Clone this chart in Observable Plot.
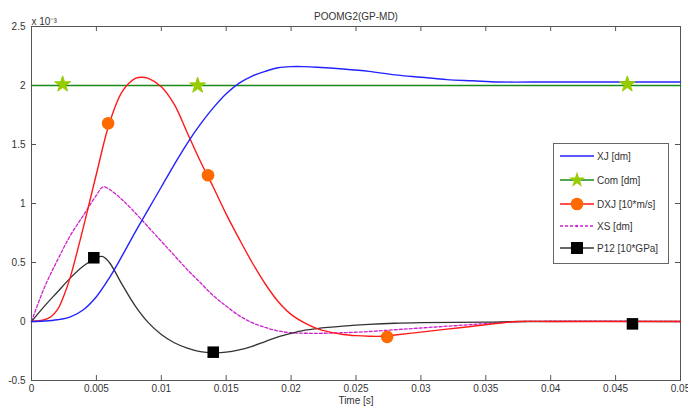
<!DOCTYPE html>
<html>
<head>
<meta charset="utf-8">
<script src="https://cdn.jsdelivr.net/npm/d3@7"></script>
<script src="https://cdn.jsdelivr.net/npm/@observablehq/plot@0.6"></script>
<style>
  body { margin: 0; background: #fff; }
  #wrap { position: relative; width: 688px; height: 409px; font-family: "Liberation Sans", Arial, sans-serif; }
  #legend { position: absolute; left: 553px; top: 143px; width: 114px; height: 119px; border: 1px solid #666; background: #fff; font-size: 10px; color: #333; }
  #legend .row { position: absolute; left: 0; height: 16px; display: flex; align-items: center; }
  #legend svg { display: block; }
  #legend span { margin-left: 1px; }
</style>
</head>
<body>
<div id="wrap"></div>
<script>
// ---- data (values in units of 1e-3) ----
const title = "POOMG2(GP-MD)";
const xLabel = "Time [s]";
const yExponent = "x 10\u207B\u00B3";
const xTicks = [0, 0.005, 0.01, 0.015, 0.02, 0.025, 0.03, 0.035, 0.04, 0.045, 0.05];
const xTickLabels = ["0", "0.005", "0.01", "0.015", "0.02", "0.025", "0.03", "0.035", "0.04", "0.045", "0.05"];
const yTicks = [-0.5, 0, 0.5, 1, 1.5, 2, 2.5];
const yTickLabels = ["-0.5", "0", "0.5", "1", "1.5", "2", "2.5"];
const seriesNames = ["XJ [dm]", "Com [dm]", "DXJ [10*m/s]", "XS [dm]", "P12 [10*GPa]"];

const xjT = [0, 0.001, 0.002, 0.003, 0.004, 0.005, 0.006, 0.007, 0.008, 0.009, 0.010, 0.011, 0.012, 0.013, 0.014, 0.015, 0.016, 0.017, 0.018, 0.019, 0.020, 0.021, 0.022, 0.024, 0.026, 0.028, 0.030, 0.032, 0.034, 0.036, 0.040, 0.045, 0.050];
const xjV = [0, 0.004, 0.015, 0.04, 0.1, 0.21, 0.37, 0.56, 0.76, 0.95, 1.14, 1.33, 1.51, 1.67, 1.81, 1.93, 2.02, 2.08, 2.12, 2.15, 2.16, 2.16, 2.155, 2.14, 2.12, 2.09, 2.07, 2.05, 2.04, 2.03, 2.03, 2.03, 2.03];

const comT = [0, 0.05];
const comV = [2, 2];
const comMarkT = [0.0024, 0.0128, 0.0459];
const comMarkV = [2.01, 2.0, 2.01];

const dxjT = [0, 0.001, 0.0015, 0.002, 0.0025, 0.003, 0.004, 0.005, 0.006, 0.007, 0.008, 0.0085, 0.009, 0.010, 0.011, 0.012, 0.013, 0.014, 0.015, 0.016, 0.017, 0.018, 0.019, 0.020, 0.021, 0.022, 0.023, 0.024, 0.025, 0.026, 0.027, 0.028, 0.030, 0.032, 0.034, 0.036, 0.0375, 0.040, 0.050];
const dxjV = [0, 0.015, 0.04, 0.1, 0.22, 0.38, 0.8, 1.25, 1.68, 1.95, 2.06, 2.07, 2.06, 1.99, 1.84, 1.6, 1.36, 1.14, 0.91, 0.7, 0.5, 0.32, 0.17, 0.06, -0.01, -0.06, -0.09, -0.11, -0.12, -0.125, -0.125, -0.115, -0.09, -0.065, -0.04, -0.015, 0, 0, 0];
const dxjMarkT = [0.0059, 0.0136, 0.0274];
const dxjMarkV = [1.68, 1.24, -0.13];

const xsT = [0, 0.001, 0.002, 0.003, 0.004, 0.005, 0.0055, 0.006, 0.007, 0.008, 0.009, 0.010, 0.011, 0.012, 0.013, 0.014, 0.015, 0.016, 0.017, 0.018, 0.019, 0.020, 0.022, 0.024, 0.026, 0.028, 0.030, 0.032, 0.034, 0.036, 0.038, 0.050];
const xsV = [0, 0.29, 0.52, 0.73, 0.9, 1.07, 1.14, 1.12, 1.03, 0.92, 0.8, 0.68, 0.56, 0.44, 0.33, 0.22, 0.13, 0.05, -0.01, -0.05, -0.08, -0.095, -0.1, -0.095, -0.085, -0.07, -0.055, -0.04, -0.025, -0.01, 0, 0];

const p12T = [0, 0.001, 0.002, 0.003, 0.004, 0.005, 0.0055, 0.006, 0.007, 0.008, 0.009, 0.010, 0.011, 0.012, 0.013, 0.014, 0.015, 0.016, 0.017, 0.018, 0.019, 0.020, 0.021, 0.022, 0.024, 0.026, 0.028, 0.030, 0.035, 0.038, 0.050];
const p12V = [0, 0.13, 0.25, 0.37, 0.47, 0.54, 0.55, 0.5, 0.31, 0.13, -0.01, -0.11, -0.18, -0.225, -0.255, -0.265, -0.26, -0.24, -0.21, -0.17, -0.13, -0.1, -0.075, -0.06, -0.04, -0.025, -0.015, -0.01, -0.005, 0, 0];
const p12MarkT = [0.0048, 0.014, 0.0463];
const p12MarkV = [0.54, -0.26, -0.02];

// ---- styles ----
const colors = { xj: "#2323ff", com: "#1a8a1a", comMark: "#99cc00", dxj: "#ff1a1a", dxjMark: "#ff6a00", xs: "#cc22cc", p12: "#333333", p12Mark: "#000000" };

const zip = (t, v) => t.map((d, i) => ({ t: d, v: v[i] }));

const W = 688, H = 409, mL = 31, mR = 8, mT = 26, mB = 29;
const innerW = W - mL - mR, innerH = H - mT - mB;
const axisColor = "#555";
const textColor = "#333";

const chart = Plot.plot({
  width: W, height: H,
  marginLeft: mL, marginRight: mR, marginTop: mT, marginBottom: mB,
  style: { fontFamily: "'Liberation Sans', Arial, sans-serif", fontSize: "10px", color: textColor, background: "#fff" },
  x: { domain: [0, 0.05] },
  y: { domain: [-0.5, 2.5] },
  marks: [
    Plot.frame({ stroke: axisColor, strokeWidth: 1 }),
    // inward ticks
    Plot.tickX(xTicks, { x: d => d, insetTop: innerH - 5, stroke: axisColor }),
    Plot.tickX(xTicks, { x: d => d, insetBottom: innerH - 5, stroke: axisColor }),
    Plot.tickY(yTicks, { y: d => d, insetRight: innerW - 5, stroke: axisColor }),
    Plot.tickY(yTicks, { y: d => d, insetLeft: innerW - 5, stroke: axisColor }),
    Plot.axisX({ ticks: xTicks, tickSize: 0, tickPadding: 4, tickFormat: d => xTickLabels[xTicks.indexOf(d)], label: null, fill: textColor }),
    Plot.axisY({ ticks: yTicks, tickSize: 0, tickPadding: 6, tickFormat: d => yTickLabels[yTicks.indexOf(d)], label: null, fill: textColor }),
    // series
    Plot.line(zip(comT, comV), { x: "t", y: "v", stroke: colors.com, strokeWidth: 1.6 }),
    Plot.line(zip(xsT, xsV), { x: "t", y: "v", stroke: colors.xs, strokeWidth: 1.3, strokeDasharray: "3,2", curve: "catmull-rom" }),
    Plot.line(zip(p12T, p12V), { x: "t", y: "v", stroke: colors.p12, strokeWidth: 1.3, curve: "catmull-rom" }),
    Plot.line(zip(dxjT, dxjV), { x: "t", y: "v", stroke: colors.dxj, strokeWidth: 1.4, curve: "catmull-rom" }),
    Plot.line(zip(xjT, xjV), { x: "t", y: "v", stroke: colors.xj, strokeWidth: 1.4, curve: "catmull-rom" }),
    // markers
    Plot.dot(zip(comMarkT, comMarkV), { x: "t", y: "v", symbol: "star", r: 5, fill: colors.comMark, stroke: colors.comMark, strokeWidth: 1 }),
    Plot.dot(zip(dxjMarkT, dxjMarkV), { x: "t", y: "v", symbol: "circle", r: 6.3, fill: colors.dxjMark, stroke: "none" }),
    Plot.dot(zip(p12MarkT, p12MarkV), { x: "t", y: "v", symbol: "square", r: 6.5, fill: colors.p12Mark, stroke: "none" }),
    // texts
    Plot.text([title], { text: d => d, frameAnchor: "top", dy: -14, fill: textColor, fontSize: 10 }),
    Plot.text([yExponent], { text: d => d, frameAnchor: "top-left", textAnchor: "start", dy: -9, dx: 0, fill: textColor, fontSize: 10 }),
    Plot.text([xLabel], { text: d => d, frameAnchor: "bottom", dy: 23, fill: textColor, fontSize: 10 })
  ]
});

const wrap = document.getElementById("wrap");
wrap.appendChild(chart);

// legend
const legendDefs = [
  { name: seriesNames[0], stroke: colors.xj, dash: null, mark: null },
  { name: seriesNames[1], stroke: colors.com, dash: null, mark: "star", fill: colors.comMark },
  { name: seriesNames[2], stroke: colors.dxj, dash: null, mark: "circle", fill: colors.dxjMark },
  { name: seriesNames[3], stroke: colors.xs, dash: "3,2", mark: "dot", fill: colors.xs },
  { name: seriesNames[4], stroke: colors.p12, dash: null, mark: "square", fill: colors.p12Mark }
];
const leg = document.createElement("div");
leg.id = "legend";
const rowTops = [4, 28, 52, 74, 96];
legendDefs.forEach((d, i) => {
  const row = document.createElement("div");
  row.className = "row";
  row.style.top = rowTops[i] + "px";
  row.style.left = "6px";
  const svg = d3.create("svg").attr("width", 36).attr("height", 16);
  svg.append("line").attr("x1", 0).attr("x2", 34).attr("y1", 8).attr("y2", 8)
    .attr("stroke", d.stroke).attr("stroke-width", 1.4).attr("stroke-dasharray", d.dash);
  if (d.mark === "star") svg.append("path").attr("d", d3.symbol(d3.symbolStar, 80)()).attr("transform", "translate(17,8)").attr("fill", d.fill);
  if (d.mark === "circle") svg.append("circle").attr("cx", 17).attr("cy", 8).attr("r", 6.3).attr("fill", d.fill);
  if (d.mark === "dot") svg.append("circle").attr("cx", 17).attr("cy", 8).attr("r", 1.2).attr("fill", d.fill);
  if (d.mark === "square") svg.append("rect").attr("x", 11).attr("y", 2).attr("width", 12).attr("height", 12).attr("fill", d.fill);
  row.appendChild(svg.node());
  const s = document.createElement("span");
  s.textContent = d.name;
  row.appendChild(s);
  leg.appendChild(row);
});
wrap.appendChild(leg);
</script>
</body>
</html>
